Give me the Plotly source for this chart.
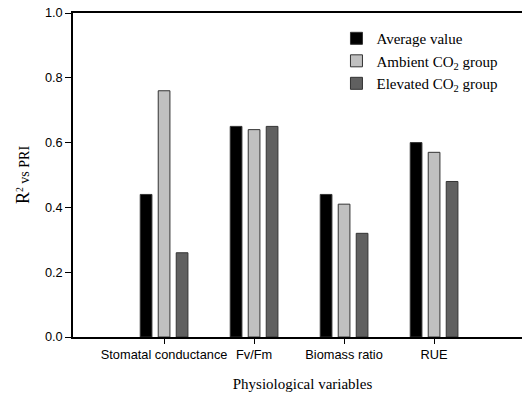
import plotly.graph_objects as go

categories = ["Stomatal conductance", "Fv/Fm", "Biomass ratio", "RUE"]
average_value = [0.44, 0.65, 0.44, 0.60]
ambient_co2 = [0.76, 0.64, 0.41, 0.57]
elevated_co2 = [0.26, 0.65, 0.32, 0.48]
y_ticks = [0.0, 0.2, 0.4, 0.6, 0.8, 1.0]
y_tick_labels = ["0.0", "0.2", "0.4", "0.6", "0.8", "1.0"]

series = [
    ("Average value", average_value, "#000000"),
    ("Ambient CO<sub>2</sub> group", ambient_co2, "#c0c0c0"),
    ("Elevated CO<sub>2</sub> group", elevated_co2, "#606060"),
]

fig = go.Figure()
for name, vals, color in series:
    fig.add_trace(go.Bar(
        x=categories, y=vals, name=name,
        marker=dict(color=color, line=dict(color="#333333", width=1)),
    ))

fig.update_layout(
    width=532, height=393,
    margin=dict(l=73, r=0, t=13, b=56),
    paper_bgcolor="white", plot_bgcolor="white",
    barmode="group", bargap=0.4, bargroupgap=0.35,
    font=dict(family="Arial, Liberation Sans, sans-serif", size=12.8, color="black"),
    showlegend=True,
    legend=dict(
        x=0.574, y=0.972, xanchor="left", yanchor="top",
        font=dict(family="Times New Roman, Liberation Serif, serif", size=15),
        bgcolor="rgba(0,0,0,0)", tracegroupgap=0, itemwidth=30,
    ),
)
fig.update_xaxes(
    range=[-1.012, 4.088], showline=True, linecolor="black", linewidth=1.5,
    mirror=True, ticks="outside", ticklen=5, tickcolor="black",
    showgrid=False, zeroline=False,
    title=dict(text="Physiological variables",
               font=dict(family="Times New Roman, Liberation Serif, serif", size=15),
               standoff=17),
)
fig.update_yaxes(
    range=[0, 1.0], tickvals=y_ticks, ticktext=y_tick_labels,
    showline=True, linecolor="black", linewidth=1.5,
    ticks="outside", ticklen=6, tickcolor="black",
    showgrid=False, zeroline=False,
    title=dict(text="<span style='font-size:18px'>R</span><sup>2</sup> vs PRI",
               font=dict(family="Times New Roman, Liberation Serif, serif", size=14),
               standoff=12),
)

fig.write_html(
    "out.html",
    config={"displayModeBar": False},
    post_script="document.body.style.margin='0';document.body.style.padding='0';document.body.style.overflow='hidden';",
)
